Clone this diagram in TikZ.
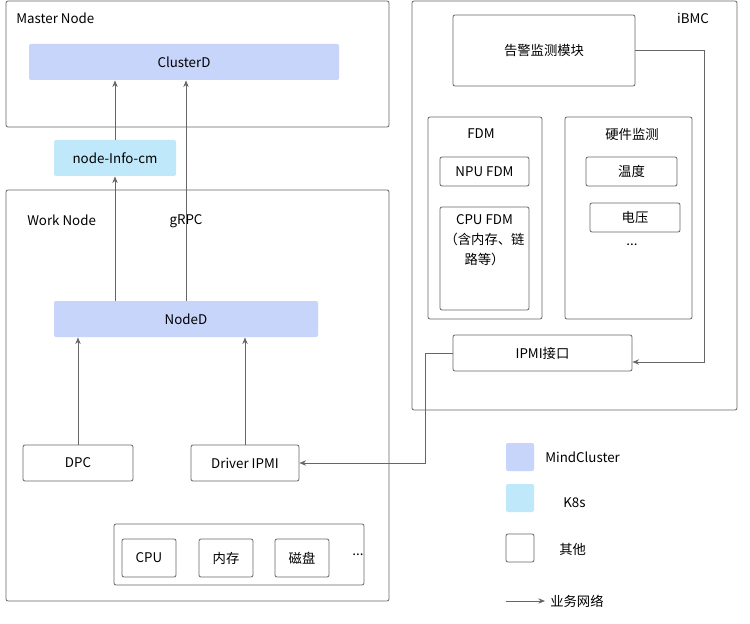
\documentclass[tikz,border=0pt]{standalone}
\usepackage{fontspec}
\setmainfont{Noto Sans CJK SC}
\usetikzlibrary{arrows.meta}
\definecolor{mc}{HTML}{C7D5FB}
\definecolor{ks}{HTML}{BFE8FB}
\definecolor{ln}{HTML}{666666}
\begin{document}
\begin{tikzpicture}[x=0.75pt,y=-0.75pt,
  box/.style={draw=ln,line width=0.6pt,rounded corners=1.5pt},
  bx/.style={box,font=\fontsize{10}{12}\selectfont},
  arr/.style={draw=ln,line width=0.6pt,-{Stealth[length=5pt,width=4pt]}},
  lbl/.style={font=\fontsize{10}{12}\selectfont,inner sep=0pt}]
\useasboundingbox (0,0) rectangle (750,624);
\fill[white] (0,0) rectangle (750,624);
% Master
\draw[box] (6,1) rectangle (389,127);
\node[lbl,anchor=west] (mlab) at (16,18) {Master Node};
\node[bx,draw=none,fill=mc,minimum width=310*0.75pt,minimum height=36*0.75pt] (cd) at (184,62) {ClusterD};
\node[bx,draw=none,fill=ks,minimum width=122*0.75pt,minimum height=36*0.75pt] (cm) at (115,158) {node-Info-cm};
% Work
\draw[box] (6,190) rectangle (389,601);
\node[lbl,anchor=west] (wlab) at (27,220) {Work Node};
\node[lbl] (grpc) at (186,221) {gRPC};
\node[bx,draw=none,fill=mc,minimum width=264*0.75pt,minimum height=36*0.75pt] (nd) at (186,319) {NodeD};
\node[bx,minimum width=110*0.75pt,minimum height=36*0.75pt] (dpc) at (78,463) {DPC};
\node[bx,minimum width=108*0.75pt,minimum height=36*0.75pt] (drv) at (245,463) {Driver IPMI};
\draw[box] (114,524) rectangle (364,585);
\node[bx,minimum width=54*0.75pt,minimum height=38*0.75pt] (cpu) at (149,558) {CPU};
\node[bx,minimum width=54*0.75pt,minimum height=38*0.75pt] (mem) at (226,558) {内存};
\node[bx,minimum width=54*0.75pt,minimum height=38*0.75pt] (disk) at (302,558) {磁盘};
\node[lbl] (dots1) at (358,555) {...};
% iBMC
\draw[box] (412,1) rectangle (737,410);
\node[lbl] (ibmc) at (693,18) {iBMC};
\node[bx,minimum width=182*0.75pt,minimum height=71*0.75pt] (alarm) at (544,50.5) {告警监测模块};
\draw[box] (428,117) rectangle (542,319);
\node[lbl] (fdm) at (481,134) {FDM};
\node[bx,minimum width=89*0.75pt,minimum height=29*0.75pt] (npu) at (484.5,171.5) {NPU FDM};
\draw[box] (440,207) rectangle (529,310);
\node[lbl,align=center,font=\fontsize{10}{15}\selectfont] (cpuf) at (484.5,240) {CPU FDM\\（含内存、链\\路等）};
\draw[box] (565,117) rectangle (692,319);
\node[lbl] (hw) at (632,134) {硬件监测};
\node[bx,minimum width=91*0.75pt,minimum height=29*0.75pt] (temp) at (631.5,171.5) {温度};
\node[bx,minimum width=90*0.75pt,minimum height=29*0.75pt] (volt) at (635,217.5) {电压};
\node[lbl] (dots2) at (632,245) {...};
\node[bx,minimum width=179*0.75pt,minimum height=36*0.75pt] (ipmi) at (542.5,353) {IPMI接口};
% arrows
\draw[arr] (cm.north) -- (cd.south-|cm.north);
\draw[arr] (nd.north-|cm.south) -- (cm.south);
\draw[arr] (nd.north-|grpc) -- (cd.south-|grpc);
\draw[arr] (dpc.north) -- (nd.south-|dpc.north);
\draw[arr] (drv.north) -- (nd.south-|drv.north);
\draw[arr] (alarm.east) -- (704,50.5) -- (704,362) -- (ipmi.east|-0,362);
\draw[arr] (ipmi.west) -- (425,353) -- (425,463) -- (drv.east);
% legend
\node[box,draw=none,fill=mc,minimum size=28*0.75pt] (l1) at (520,457) {};
\node[lbl,anchor=west] (t1) at (545,457) {MindCluster};
\node[box,draw=none,fill=ks,minimum size=28*0.75pt] (l2) at (520,498) {};
\node[lbl,anchor=west] (t2) at (563,503) {K8s};
\node[box,minimum size=28*0.75pt] (l3) at (520,548) {};
\node[lbl,anchor=west] (t3) at (559,549) {其他};
\coordinate (la) at (506,601);
\draw[arr] (la) -- (545,601);
\node[lbl,anchor=west] (t4) at (550,601) {业务网络};
\end{tikzpicture}
\end{document}
